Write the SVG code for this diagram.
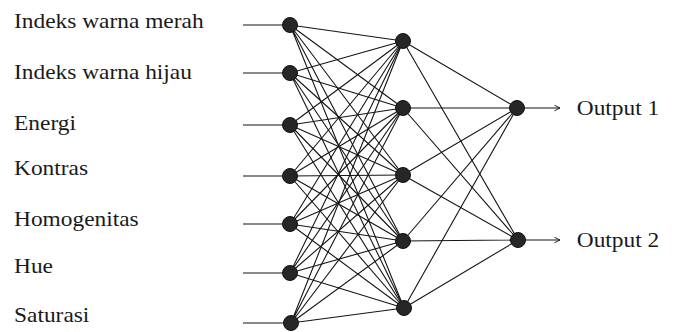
<svg xmlns="http://www.w3.org/2000/svg" width="676" height="332" viewBox="0 0 676 332">
<defs>
<style>
.c{stroke:#151515;stroke-width:1.1;fill:none}
.n{fill:#262626;stroke:#111;stroke-width:1}
.lbl{font-family:"Liberation Serif","Times New Roman",serif;font-size:20px;fill:#1a1a1a}
</style>
<marker id="ah" viewBox="0 0 10 10" refX="9" refY="5" markerWidth="7" markerHeight="7" orient="auto" markerUnits="userSpaceOnUse">
<path d="M1,1 L9,5 L1,9" fill="none" stroke="#151515" stroke-width="1.3"/>
</marker>
</defs>
<rect width="676" height="332" fill="#ffffff"/>
<g id="connectors" class="c">
<path d="M243,25H290M243,73H290M243,125H290M243,176H290M243,224H290M243,273H290M243,323H291"/>
<path d="M290,25L403,41M290,25L403,108M290,25L403,175M290,25L403,241M290,25L404,308"/>
<path d="M290,73L403,41M290,73L403,108M290,73L403,175M290,73L403,241M290,73L404,308"/>
<path d="M290,125L403,41M290,125L403,108M290,125L403,175M290,125L403,241M290,125L404,308"/>
<path d="M290,176L403,41M290,176L403,108M290,176L403,175M290,176L403,241M290,176L404,308"/>
<path d="M290,224L403,41M290,224L403,108M290,224L403,175M290,224L403,241M290,224L404,308"/>
<path d="M290,273L403,41M290,273L403,108M290,273L403,175M290,273L403,241M290,273L404,308"/>
<path d="M291,323L403,41M291,323L403,108M291,323L403,175M291,323L403,241M291,323L404,308"/>
<path d="M403,41L517,108M403,108L517,108M403,175L517,108M403,241L517,108M404,308L517,108"/>
<path d="M403,41L518,240M403,108L518,240M403,175L518,240M403,241L518,240M404,308L518,240"/>
<path d="M517,108H560" marker-end="url(#ah)"/>
<path d="M518,240H560" marker-end="url(#ah)"/>
</g>
<g id="input-layer">
<g id="in1"><circle class="n" cx="290" cy="25" r="7.5"/></g>
<g id="in2"><circle class="n" cx="290" cy="73" r="7.5"/></g>
<g id="in3"><circle class="n" cx="290" cy="125" r="7.5"/></g>
<g id="in4"><circle class="n" cx="290" cy="176" r="7.5"/></g>
<g id="in5"><circle class="n" cx="290" cy="224" r="7.5"/></g>
<g id="in6"><circle class="n" cx="290" cy="273" r="7.5"/></g>
<g id="in7"><circle class="n" cx="291" cy="323" r="7.5"/></g>
</g>
<g id="hidden-layer">
<g id="h1"><circle class="n" cx="403" cy="41" r="7.5"/></g>
<g id="h2"><circle class="n" cx="403" cy="108" r="7.5"/></g>
<g id="h3"><circle class="n" cx="403" cy="175" r="7.5"/></g>
<g id="h4"><circle class="n" cx="403" cy="241" r="7.5"/></g>
<g id="h5"><circle class="n" cx="404" cy="308" r="7.5"/></g>
</g>
<g id="output-layer">
<g id="o1"><circle class="n" cx="517" cy="108" r="7.5"/></g>
<g id="o2"><circle class="n" cx="518" cy="240" r="7.5"/></g>
</g>
<g id="labels" transform="scale(1.17,1)">
<text class="lbl" x="12" y="28">Indeks warna merah</text>
<text class="lbl" x="12" y="79">Indeks warna hijau</text>
<text class="lbl" x="12" y="130">Energi</text>
<text class="lbl" x="12" y="175">Kontras</text>
<text class="lbl" x="12" y="226">Homogenitas</text>
<text class="lbl" x="12" y="273">Hue</text>
<text class="lbl" x="12" y="322">Saturasi</text>
<text class="lbl" x="493" y="115">Output 1</text>
<text class="lbl" x="493" y="247">Output 2</text>
</g>
</svg>
